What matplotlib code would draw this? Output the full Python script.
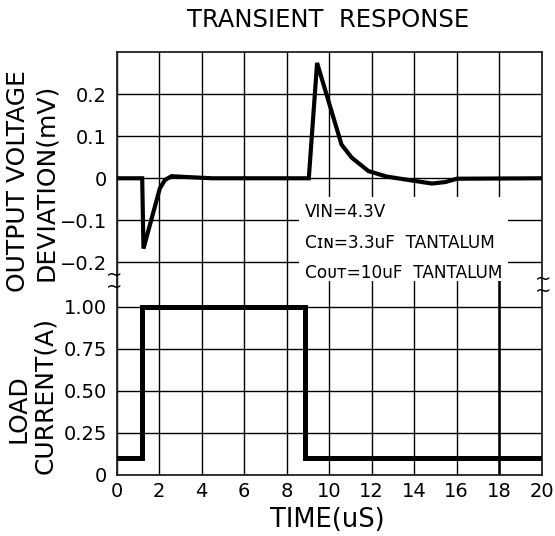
import matplotlib
matplotlib.use('Agg')
import matplotlib.pyplot as plt

# ---- data ----
time_v = [0, 1.2, 1.26, 2.03, 2.27, 2.58, 3.3, 4.5, 9.04, 9.43, 10.58, 11.06, 11.85,
          12.71, 13.73, 14.83, 15.46, 16.01, 20]
volt_dev = [0, 0, -0.167, -0.024, -0.004, 0.005, 0.003, 0.0, 0.0, 0.274, 0.080, 0.049,
            0.017, 0.004, -0.004, -0.0125, -0.009, -0.001, 0]

time_i = [0, 1.2, 1.2, 8.85, 8.85, 20]
load_current = [0.1, 0.1, 1.0, 1.0, 0.1, 0.1]

x_ticks = [0, 2, 4, 6, 8, 10, 12, 14, 16, 18, 20]
x_labels = ['0', '2', '4', '6', '8', '10', '12', '14', '16', '18', '20']
v_ticks = [0.2, 0.1, 0.0, -0.1, -0.2]
v_labels = ['0.2', '0.1', '0', '\u22120.1', '\u22120.2']
i_ticks = [0, 0.25, 0.5, 0.75, 1.0]
i_labels = ['0', '0.25', '0.50', '0.75', '1.00']

title = 'TRANSIENT  RESPONSE'
xlabel = 'TIME(uS)'
note = 'VIN=4.3V\nC\u026a\u0274=3.3uF  TANTALUM\nC\u1d0f\u1d1c\u1d1b=10uF  TANTALUM'

# ---- figure ----
plt.rcParams['font.family'] = ['DejaVu Sans']
W_PX, H_PX = 555, 536
fig = plt.figure(figsize=(W_PX / 100, H_PX / 100), dpi=100)

left = 116.7 / W_PX
width = 425 / W_PX
split = (H_PX - 281) / H_PX
top = (H_PX - 52) / H_PX
bottom = (H_PX - 475) / H_PX

ax1 = fig.add_axes([left, split, width, top - split])
ax2 = fig.add_axes([left, bottom, width, split - bottom])

for ax in (ax1, ax2):
    ax.set_xlim(0, 20)
    ax.set_xticks(x_ticks)
    ax.grid(True, color='black', linewidth=1.0)
    ax.set_axisbelow(True)
    ax.tick_params(length=0, labelsize=14, colors='black')
    for s in ax.spines.values():
        s.set_color('#222222')
        s.set_linewidth(1.3)

ax1.set_ylim(-0.244, 0.3)
ax1.set_yticks(v_ticks)
ax1.set_yticklabels(v_labels)
ax1.tick_params(axis='x', labelbottom=False)
ax1.tick_params(axis='y', pad=7)
ax1.spines['bottom'].set_visible(False)

ax2.set_ylim(0, 1.153)
ax2.set_yticks(i_ticks)
ax2.set_yticklabels(i_labels)
ax2.set_xticklabels(x_labels)
ax2.tick_params(axis='y', pad=7)
ax2.tick_params(axis='x', pad=5)
ax2.spines['top'].set_visible(False)
# heavier grid line at 18 in the lower panel
ax2.axvline(x_ticks[-2], color='black', linewidth=1.8, zorder=1.5)

ax1.plot(time_v, volt_dev, color='black', linewidth=3.0, solid_joinstyle='miter', zorder=3)
ax2.plot(time_i, load_current, color='black', linewidth=3.6, solid_joinstyle='miter', zorder=3)

ax1.text(8.85, -0.058, note, ha='left', va='top', fontsize=12.2, linespacing=1.92,
         zorder=2.5, bbox=dict(facecolor='white', edgecolor='none', pad=4))

# axis titles
fig.text(18 / W_PX, 1 - 181 / H_PX, 'OUTPUT VOLTAGE', rotation=90, ha='center', va='center', fontsize=18)
fig.text(46 / W_PX, 1 - 182 / H_PX, 'DEVIATION(mV)', rotation=90, ha='center', va='center', fontsize=18)
fig.text(19 / W_PX, 1 - 409 / H_PX, 'LOAD', rotation=90, ha='center', va='center', fontsize=18)
fig.text(45 / W_PX, 1 - 395 / H_PX, 'CURRENT(A)', rotation=90, ha='center', va='center', fontsize=18)
fig.text(328 / W_PX, 1 - 20 / H_PX, title, ha='center', va='center', fontsize=17.5)
fig.text(327 / W_PX, 1 - 520 / H_PX, xlabel, ha='center', va='center', fontsize=18.5)

# axis-break marks
for xp, yp in [(114, 281), (543, 285)]:
    fig.text(xp / W_PX, 1 - yp / H_PX, '~\n~', ha='center', va='center', fontsize=14,
             linespacing=0.55)

fig.savefig('out.png', dpi=100, facecolor='white')
